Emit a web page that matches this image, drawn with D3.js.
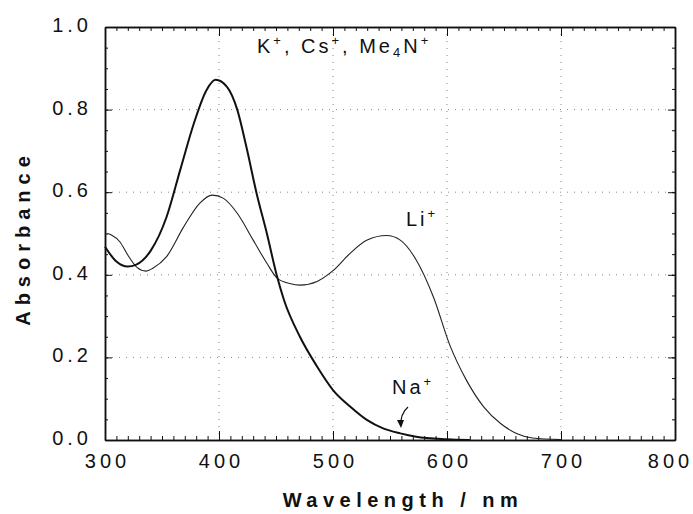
<!DOCTYPE html>
<html>
<head>
<meta charset="utf-8">
<script src="https://cdn.jsdelivr.net/npm/d3@7"></script>
<style>
  body { margin: 0; background: #fff; }
  text { font-family: "Liberation Sans", Arial, sans-serif; fill: #111; }
</style>
</head>
<body>
<svg id="chart" width="693" height="514"></svg>
<script>
// spectra (wavelength nm, absorbance)
var kWave = [300, 310, 320, 327, 340, 354, 366, 378, 389, 397, 407, 416, 424, 433, 442, 451, 457, 471, 486, 500, 515, 530, 544, 559, 573, 600, 620];
var kAbs  = [0.468, 0.432, 0.42, 0.424, 0.458, 0.54, 0.654, 0.767, 0.847, 0.872, 0.855, 0.80, 0.71, 0.597, 0.50, 0.395, 0.339, 0.25, 0.178, 0.121, 0.081, 0.048, 0.028, 0.016, 0.008, 0.002, 0.0];

var liWave = [302, 306, 313, 320, 328, 336, 342, 354, 369, 383, 394, 404, 416, 430, 442, 451, 462, 471, 486, 500, 515, 530, 547, 559, 573, 588, 603, 617, 632, 647, 661, 675, 700];
var liAbs  = [0.50, 0.496, 0.48, 0.448, 0.418, 0.409, 0.416, 0.444, 0.516, 0.573, 0.593, 0.585, 0.549, 0.484, 0.428, 0.392, 0.379, 0.375, 0.384, 0.41, 0.452, 0.484, 0.495, 0.484, 0.436, 0.347, 0.226, 0.145, 0.081, 0.040, 0.016, 0.005, 0.001];

var xTicks = [300, 400, 500, 600, 700, 800];
var yTicks = [0, 0.2, 0.4, 0.6, 0.8, 1.0];

var svg = d3.select("#chart");
var pLeft = 105, pRight = 675, pTop = 27, pBottom = 440;

var x = d3.scaleLinear().domain([300, 800]).range([pLeft, pRight]);
var y = d3.scaleLinear().domain([0, 1]).range([pBottom, pTop]);

// dotted grid
var grid = svg.append("g").attr("stroke", "#888").attr("stroke-width", 1)
    .attr("stroke-dasharray", "1,6");
grid.selectAll(".gx").data(xTicks.slice(1, -1)).enter().append("line")
    .attr("x1", d => x(d)).attr("x2", d => x(d)).attr("y1", pTop).attr("y2", pBottom);
grid.selectAll(".gy").data(yTicks.slice(1, -1)).enter().append("line")
    .attr("y1", d => y(d)).attr("y2", d => y(d)).attr("x1", pLeft).attr("x2", pRight);

// frame + ticks
function ticks(axis, tr) {
    var g = svg.append("g").attr("transform", tr).call(axis);
    g.selectAll("text").remove();
    g.select(".domain").attr("stroke", "#111").attr("stroke-width", 1.5);
    g.selectAll(".tick line").attr("stroke", "#111");
    return g;
}
var minorX = d3.range(300, 801, 10), minorY = d3.range(0, 1.001, 0.05);
ticks(d3.axisBottom(x).tickValues(minorX).tickSize(-4).tickSizeOuter(0), "translate(0," + pBottom + ")");
ticks(d3.axisBottom(x).tickValues(xTicks).tickSize(-9).tickSizeOuter(0), "translate(0," + pBottom + ")");
ticks(d3.axisTop(x).tickValues(minorX).tickSize(-4).tickSizeOuter(0), "translate(0," + pTop + ")");
ticks(d3.axisTop(x).tickValues(xTicks).tickSize(-9).tickSizeOuter(0), "translate(0," + pTop + ")");
ticks(d3.axisLeft(y).tickValues(minorY).tickSize(-3).tickSizeOuter(0), "translate(" + pLeft + ",0)");
ticks(d3.axisLeft(y).tickValues(yTicks).tickSize(-7).tickSizeOuter(0), "translate(" + pLeft + ",0)");
ticks(d3.axisRight(y).tickValues(minorY).tickSize(-3).tickSizeOuter(0), "translate(" + pRight + ",0)");
ticks(d3.axisRight(y).tickValues(yTicks).tickSize(-7).tickSizeOuter(0), "translate(" + pRight + ",0)");

// tick labels
var xl = svg.append("g").attr("transform", "translate(0," + pBottom + ")")
    .call(d3.axisBottom(x).tickValues(xTicks).tickSize(0).tickPadding(14));
var yl = svg.append("g").attr("transform", "translate(" + pLeft + ",-2)")
    .call(d3.axisLeft(y).tickValues(yTicks).tickSize(0).tickPadding(13).tickFormat(d3.format(".1f")));
[xl, yl].forEach(function(g) {
    g.select(".domain").remove();
    g.selectAll("text").attr("font-size", 20).style("letter-spacing", "4px")
        .attr("font-family", "Liberation Sans, Arial, sans-serif").attr("fill", "#111");
});
xl.selectAll("text").attr("dx", (d, i) => i == xTicks.length - 1 ? -5 : 2);

// curves
var line = d3.line().curve(d3.curveMonotoneX).x(d => x(d[0])).y(d => y(d[1]));
svg.append("path").datum(d3.zip(liWave, liAbs)).attr("d", line)
    .attr("fill", "none").attr("stroke", "#222").attr("stroke-width", 1.1);
svg.append("path").datum(d3.zip(kWave, kAbs)).attr("d", line)
    .attr("fill", "none").attr("stroke", "#111").attr("stroke-width", 2);

// labels: parts are [text, kind]; kinds shift baseline and come back
function ion(xp, yp, parts) {
    var t = svg.append("text").attr("x", xp).attr("y", yp).attr("font-size", 20)
        .style("letter-spacing", "3px");
    var shift = 0;
    parts.forEach(function(p) {
        var s = t.append("tspan").text(p[0]);
        var want = p[1] == "sup" ? -8 : p[1] == "sub" ? 4 : 0;
        if (p[1]) s.attr("font-size", 13);
        s.attr("dy", want - shift);
        shift = want;
    });
}
ion(257, 53, [["K"], ["+", "sup"], [", Cs"], ["+", "sup"], [", Me"], ["4", "sub"], ["N"], ["+", "sup"]]);
ion(406, 226, [["Li"], ["+", "sup"]]);
ion(392, 394, [["Na"], ["+", "sup"]]);

// arrow to Na+ curve
svg.append("path").attr("d", "M408,407 Q400,414 401,426")
    .attr("fill", "none").attr("stroke", "#111").attr("stroke-width", 1.2);
svg.append("path").attr("d", "M397,420 L401,428 L404,420 Z").attr("fill", "#111");

// axis titles
svg.append("text").attr("x", 403).attr("y", 507).attr("text-anchor", "middle")
    .attr("font-size", 20).attr("font-weight", "bold").style("letter-spacing", "5.5px")
    .text("Wavelength / nm");
svg.append("text").attr("transform", "translate(30,238) rotate(-90)").attr("text-anchor", "middle")
    .attr("font-size", 20).attr("font-weight", "bold").style("letter-spacing", "6px")
    .text("Absorbance");
</script>
</body>
</html>
